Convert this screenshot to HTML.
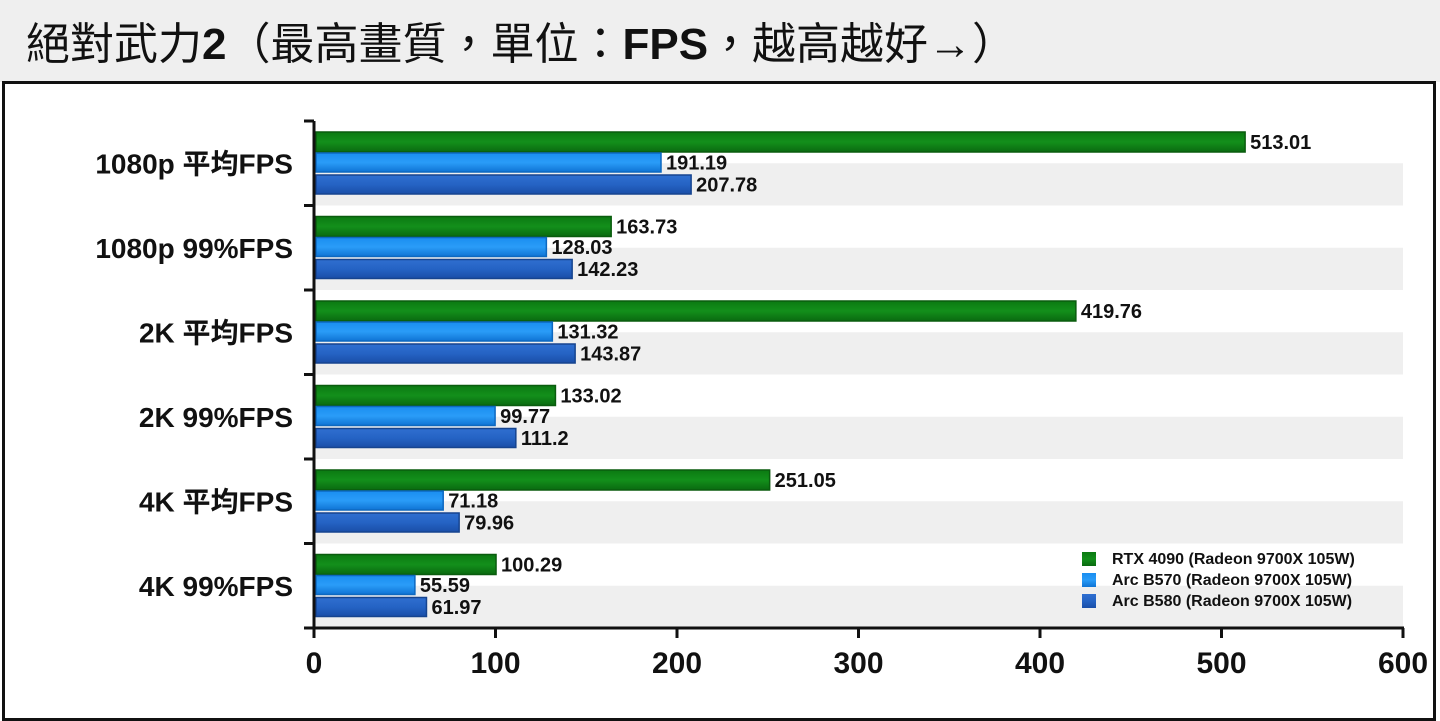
<!DOCTYPE html>
<html><head><meta charset="utf-8"><style>
body{margin:0;width:1440px;height:720px;background:#fff;overflow:hidden;font-family:"Liberation Sans","Noto Sans CJK TC",sans-serif}
#title{position:absolute;left:0;top:0;width:1440px;height:82px;background:#efefef}
#title span{position:absolute;left:26px;top:8px;font-size:44px;color:#111;white-space:nowrap;font-family:"Liberation Sans","Noto Sans CJK TC",sans-serif}
#box{position:absolute;left:2px;top:81px;width:1428px;height:634px;border:3px solid #111}
</style></head><body>
<div id="title"><span>絕對武力<b>2</b>（最高畫質，單位：<b>FPS</b>，越高越好→）</span></div>
<div id="box"></div>
<svg id="chart" width="1440" height="720" style="position:absolute;left:0;top:0">
<defs>
<linearGradient id="gG" x1="0" y1="0" x2="0" y2="1"><stop offset="0" stop-color="#0b7a12"/><stop offset="0.5" stop-color="#138f1b"/><stop offset="1" stop-color="#0a6a10"/></linearGradient>
<linearGradient id="gL" x1="0" y1="0" x2="0" y2="1"><stop offset="0" stop-color="#1a8ef0"/><stop offset="0.5" stop-color="#2a9cf8"/><stop offset="1" stop-color="#0f74d4"/></linearGradient>
<linearGradient id="gD" x1="0" y1="0" x2="0" y2="1"><stop offset="0" stop-color="#2f6fd0"/><stop offset="0.5" stop-color="#2563c4"/><stop offset="1" stop-color="#1a4ea8"/></linearGradient>
</defs>
</svg>
<script>
const categories=["1080p 平均FPS","1080p 99%FPS","2K 平均FPS","2K 99%FPS","4K 平均FPS","4K 99%FPS"];
const seriesNames=["RTX 4090 (Radeon 9700X 105W)","Arc B570 (Radeon 9700X 105W)","Arc B580 (Radeon 9700X 105W)"];
const rtx4090=[513.01,163.73,419.76,133.02,251.05,100.29];
const arcB570=[191.19,128.03,131.32,99.77,71.18,55.59];
const arcB580=[207.78,142.23,143.87,111.2,79.96,61.97];
const ticks=[0,100,200,300,400,500,600];
const svg=document.getElementById('chart');const NS="http://www.w3.org/2000/svg";
const x0=314,x1=1403,yTop=121,yBot=628,xMax=600;
const xs=v=>x0+(v/xMax)*(x1-x0);
const gh=(yBot-yTop)/categories.length;
const gy=i=>yTop+i*gh;
function mk(t,a){const e=document.createElementNS(NS,t);for(const k in a)e.setAttribute(k,a[k]);svg.appendChild(e);return e;}
const series=[rtx4090,arcB570,arcB580];const fills=["url(#gG)","url(#gL)","url(#gD)"];const strokes=["#0a5c0e","#0d68c0","#16448f"];
const offs=[11,32,54];const bh=[20,19,19];
categories.forEach((c,i)=>{const s=mk('rect',{x:x0,y:gy(i)+gh*0.5,width:x1-x0,height:gh*0.5,fill:'#efefef'});

});
categories.forEach((c,i)=>{
const t=mk('text',{x:293,y:gy(i)+gh/2+10,'text-anchor':'end','font-size':28,'font-weight':'bold',fill:'#111'});t.textContent=c;


series.forEach((arr,j)=>{const y=gy(i)+offs[j];
const r=mk('rect',{x:x0+2,y:y,width:xs(arr[i])-x0-2,height:bh[j],fill:fills[j],stroke:strokes[j],'stroke-width':1.5});


const l=mk('text',{x:xs(arr[i])+5,y:y+bh[j]/2+7,'font-size':20,'font-weight':'bold',fill:'#111'});l.textContent=arr[i];

});
});
const ya=mk('line',{x1:x0,y1:yTop,x2:x0,y2:yBot,stroke:'#111','stroke-width':3});


for(let i=0;i<=categories.length;i++){const tk=mk('line',{x1:x0-10,y1:gy(i),x2:x0,y2:gy(i),stroke:'#111','stroke-width':3});

}
const xa=mk('line',{x1:x0-1,y1:yBot,x2:x1+1,y2:yBot,stroke:'#111','stroke-width':3});


ticks.forEach(v=>{const tk=mk('line',{x1:xs(v),y1:yBot,x2:xs(v),y2:yBot+10,stroke:'#111','stroke-width':3});


const t=mk('text',{x:xs(v),y:yBot+45,'text-anchor':'middle','font-size':30,'font-weight':'bold',fill:'#111'});t.textContent=v;

});
seriesNames.forEach((n,j)=>{const y=558+j*21;
const r=mk('rect',{x:1082,y:y-6,width:14,height:14,fill:fills[j]});


const t=mk('text',{x:1112,y:y+6,'font-size':16,'font-weight':'bold',fill:'#111'});t.textContent=n;

});
</script>
</body></html>
